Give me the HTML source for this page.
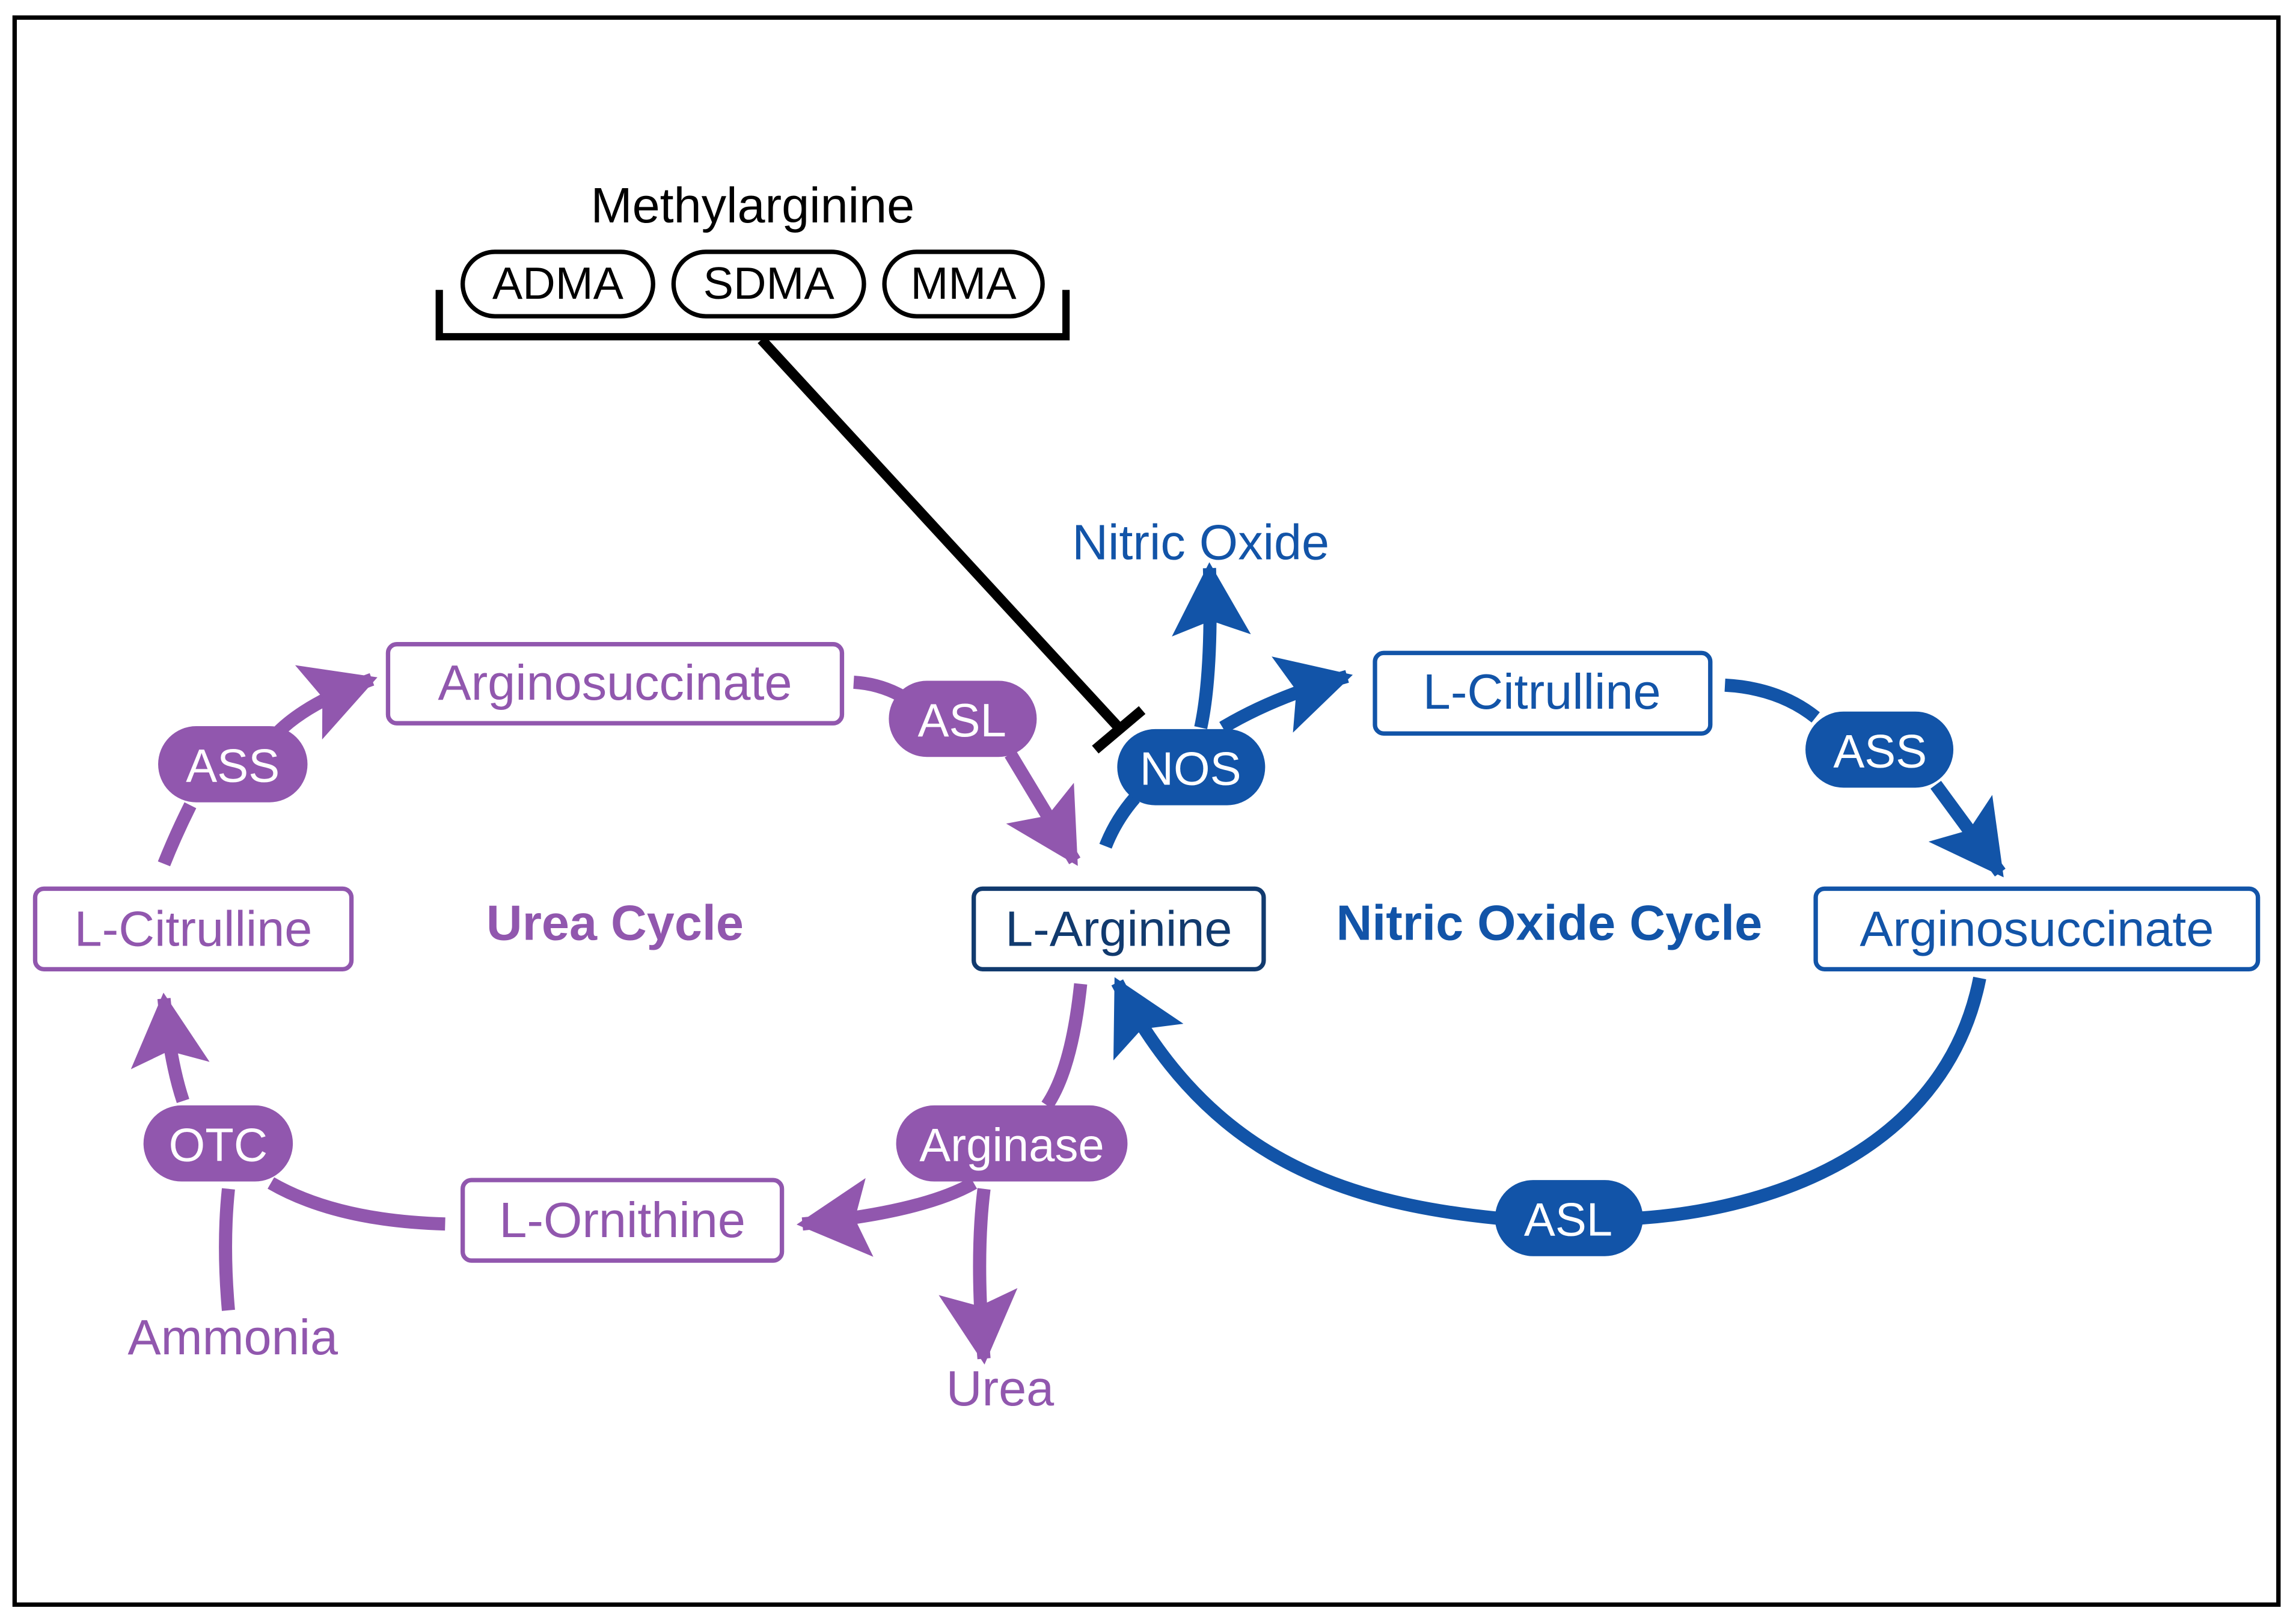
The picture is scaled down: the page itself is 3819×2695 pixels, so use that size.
<!DOCTYPE html>
<html><head><style>html,body{margin:0;padding:0;background:#fff}svg{display:block}</style></head>
<body>
<svg width="3819" height="2695" viewBox="0 0 1568 1106.5" preserveAspectRatio="none" xmlns="http://www.w3.org/2000/svg" font-family="Liberation Sans, sans-serif">
<defs>
<marker id="mp" markerUnits="userSpaceOnUse" markerWidth="54" markerHeight="54" refX="46" refY="27" orient="auto"><path d="M0,0 L50,27 L0,54 L10,27 Z" fill="#9157ae"/></marker>
<marker id="mb" markerUnits="userSpaceOnUse" markerWidth="54" markerHeight="54" refX="46" refY="27" orient="auto"><path d="M0,0 L50,27 L0,54 L10,27 Z" fill="#1254a8"/></marker>
</defs>
<rect x="10" y="12" width="1546" height="1084" fill="none" stroke="#000" stroke-width="3"/>
<text x="514" y="152" font-size="34" text-anchor="middle">Methylarginine</text>
<g fill="#fff" stroke="#000" stroke-width="3">
<rect x="316" y="172" width="130" height="44" rx="22"/>
<rect x="460" y="172" width="130" height="44" rx="22"/>
<rect x="604" y="172" width="108" height="44" rx="22"/>
</g>
<g font-size="31" text-anchor="middle"><text x="381" y="204">ADMA</text><text x="525" y="204">SDMA</text><text x="658" y="204">MMA</text></g>
<path d="M300,198 V230 H728 V198" fill="none" stroke="#000" stroke-width="5"/>
<path d="M520,232 L765,498" stroke="#000" stroke-width="7"/>
<path d="M748,512 L780,485" stroke="#000" stroke-width="7"/>

<g fill="none" stroke="#9157ae" stroke-width="9">
<path d="M112,590 Q120,570 130,550"/>
<path d="M190,500 Q210,480 254,464" marker-end="url(#mp)"/>
<path d="M583,466 Q600,467 615,475"/>
<path d="M690,515 L734,588" marker-end="url(#mp)"/>
<path d="M738,672 Q732,730 715,755"/>
<path d="M665,808 Q630,828 548,836" marker-end="url(#mp)"/>
<path d="M672,812 Q666,860 672,928" marker-end="url(#mp)"/>
<path d="M304,836 Q230,834 185,808"/>
<path d="M156,812 Q152,850 156,895"/>
<path d="M125,752 Q116,725 112,682" marker-end="url(#mp)"/>
</g>
<g fill="none" stroke="#1254a8" stroke-width="9">
<path d="M755,578 Q762,560 775,545"/>
<path d="M820,497 Q828,460 826,388" marker-end="url(#mb)"/>
<path d="M835,497 Q870,476 920,462" marker-end="url(#mb)"/>
<path d="M1178,468 Q1215,470 1240,490"/>
<path d="M1322,536 L1366,596" marker-end="url(#mb)"/>
<path d="M1352,668 C1330,780 1220,825 1120,832"/>
<path d="M1022,832 C900,820 820,780 763,671" marker-end="url(#mb)"/>
</g>

<g fill="#fff" stroke-width="3">
<rect x="265" y="440" width="310" height="54" rx="6" stroke="#9157ae"/>
<rect x="24" y="607" width="216" height="55" rx="6" stroke="#9157ae"/>
<rect x="316" y="806" width="218" height="55" rx="6" stroke="#9157ae"/>
<rect x="665" y="607" width="198" height="55" rx="6" stroke="#113a6e"/>
<rect x="939" y="446" width="229" height="55" rx="6" stroke="#1254a8"/>
<rect x="1240" y="607" width="302" height="55" rx="6" stroke="#1254a8"/>
</g>
<g font-size="34" text-anchor="middle">
<text x="420" y="478" fill="#9157ae">Arginosuccinate</text>
<text x="132" y="646" fill="#9157ae">L-Citrulline</text>
<text x="425" y="845" fill="#9157ae">L-Ornithine</text>
<text x="764" y="646" fill="#113a6e">L-Arginine</text>
<text x="1053" y="484" fill="#1254a8">L-Citrulline</text>
<text x="1391" y="646" fill="#1254a8">Arginosuccinate</text>
<text x="820" y="382" fill="#1254a8">Nitric Oxide</text>
<text x="159" y="925" fill="#9157ae">Ammonia</text>
<text x="683" y="960" fill="#9157ae">Urea</text>
<text x="420" y="642" fill="#9157ae" font-weight="bold">Urea Cycle</text>
<text x="1058" y="642" fill="#1254a8" font-weight="bold">Nitric Oxide Cycle</text>
</g>
<g>
<rect x="108" y="496" width="102" height="52" rx="26" fill="#9157ae"/>
<rect x="607" y="465" width="101" height="52" rx="26" fill="#9157ae"/>
<rect x="98" y="755" width="102" height="52" rx="26" fill="#9157ae"/>
<rect x="612" y="755" width="158" height="52" rx="26" fill="#9157ae"/>
<rect x="763" y="498" width="101" height="52" rx="26" fill="#1254a8"/>
<rect x="1233" y="486" width="101" height="52" rx="26" fill="#1254a8"/>
<rect x="1021" y="806" width="101" height="52" rx="26" fill="#1254a8"/>
</g>
<g font-size="32" fill="#fff" text-anchor="middle">
<text x="159" y="534">ASS</text>
<text x="657" y="503">ASL</text>
<text x="149" y="793">OTC</text>
<text x="691" y="793">Arginase</text>
<text x="813" y="536">NOS</text>
<text x="1284" y="524">ASS</text>
<text x="1071" y="844">ASL</text>
</g>
</svg>
</body></html>
